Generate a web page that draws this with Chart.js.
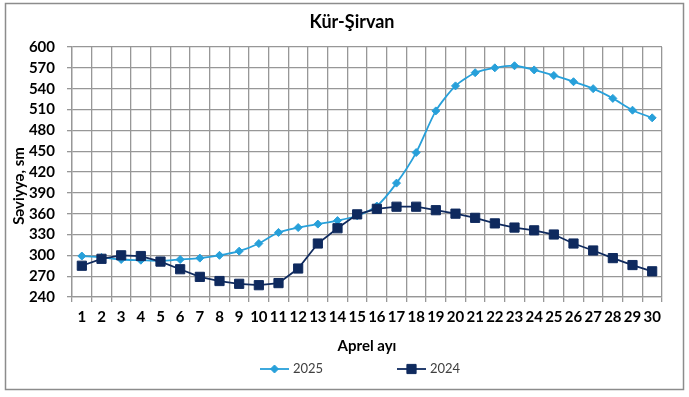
<!DOCTYPE html>
<html>
<head>
<meta charset="utf-8">
<title>Kür-Şirvan</title>
<script src="https://cdn.jsdelivr.net/npm/chart.js@4.4.1/dist/chart.umd.min.js"></script>
<style>
    html, body { margin: 0; padding: 0; background: #fff; }
    #wrap { width: 689px; height: 397px; position: relative; }
</style>
</head>
<body>
<div id="wrap"><canvas id="levelChart"></canvas></div>
<script>
// Kür-Şirvan - April water level, 2025 vs 2024

const days = ['1', '2', '3', '4', '5', '6', '7', '8', '9', '10', '11', '12', '13', '14', '15',
    '16', '17', '18', '19', '20', '21', '22', '23', '24', '25', '26', '27', '28', '29', '30'];

const level2025 = [299, 297, 294, 293, 292, 294, 296, 300, 306, 317, 333, 340, 345, 350, 357,
    371, 404, 448, 508, 544, 563, 570, 573, 567, 559, 550, 540, 526, 509, 498];

const level2024 = [285, 295, 300, 299, 291, 280, 269, 263, 259, 257, 260, 281, 317, 339, 359,
    367, 370, 370, 365, 360, 354, 346, 340, 336, 330, 317, 307, 296, 286, 277];

const yTicks = [240, 270, 300, 330, 360, 390, 420, 450, 480, 510, 540, 570, 600];

const chartTitle = 'Kür-Şirvan';
const yTitle = 'Səviyyə, sm';
const xTitle = 'Aprel ayı';

const COLOR_2025 = '#27a0da';
const COLOR_2024 = '#0f2a5e';
const GRID = '#979797';
const FONT = 'Lato, "Open Sans", sans-serif';

// frame, title, y title and legend drawn by hand
const decorPlugin = {
    id: 'decor',
    beforeDraw(chart) {
        const ctx = chart.ctx;
        ctx.save();
        ctx.fillStyle = '#fff';
        ctx.fillRect(0, 0, chart.width, chart.height);
        ctx.strokeStyle = '#8c8c8c';
        ctx.lineWidth = 1.5;
        ctx.strokeRect(5.5, 3.5, 678, 386);
        ctx.restore();
    },
    afterDraw(chart) {
        const ctx = chart.ctx;
        ctx.save();
        ctx.fillStyle = '#000';
        ctx.textBaseline = 'middle';
        ctx.textAlign = 'center';
        ctx.font = 'bold 18px ' + FONT;
        ctx.fillText(chartTitle, 352, 22);

        ctx.save();
        ctx.translate(19, 186);
        ctx.rotate(-Math.PI / 2);
        ctx.font = 'bold 15px ' + FONT;
        ctx.fillText(yTitle, 0, 0);
        ctx.restore();

        // legend
        const starts = [260, 397];
        const y = 369;
        ctx.font = '13px ' + FONT;
        ctx.textAlign = 'left';
        chart.data.datasets.forEach((ds, i) => {
            const x0 = starts[i];
            ctx.strokeStyle = ds.borderColor;
            ctx.fillStyle = ds.borderColor;
            ctx.lineWidth = 1.8;
            ctx.beginPath();
            ctx.moveTo(x0, y);
            ctx.lineTo(x0 + 29, y);
            ctx.stroke();
            ctx.lineWidth = 1;
            Chart.helpers.drawPoint(ctx, {
                pointStyle: ds.pointStyle,
                radius: ds.pointRadius,
                borderWidth: 1
            }, x0 + 14.5, y);
            ctx.fillStyle = '#404040';
            ctx.fillText(ds.label, x0 + 33, y);
        });
        ctx.restore();
    }
};

const levelChart = new Chart(document.getElementById('levelChart'), {
    type: 'line',
    data: {
        labels: days,
        datasets: [{
            label: '2025',
            data: level2025,
            borderColor: COLOR_2025,
            backgroundColor: COLOR_2025,
            pointBackgroundColor: COLOR_2025,
            pointBorderColor: COLOR_2025,
            borderWidth: 1.8,
            pointStyle: 'rectRot',
            pointRadius: 4,
            pointBorderWidth: 1,
            tension: 0.25,
            order: 1
        }, {
            label: '2024',
            data: level2024,
            borderColor: COLOR_2024,
            backgroundColor: COLOR_2024,
            pointBackgroundColor: COLOR_2024,
            pointBorderColor: COLOR_2024,
            borderWidth: 1.8,
            pointStyle: 'rect',
            pointRadius: 6.5,
            pointBorderWidth: 1,
            tension: 0,
            order: 0
        }]
    },
    options: {
        responsive: true,
        maintainAspectRatio: false,
        animation: false,
        layout: {
            padding: { left: 6, right: 27, top: 47, bottom: 40 }
        },
        plugins: {
            legend: { display: false },
            title: { display: false },
            tooltip: { enabled: false }
        },
        scales: {
            x: {
                offset: true,
                grid: { color: GRID, lineWidth: 1.3, offset: true, tickLength: 5 },
                border: { color: GRID, width: 1.3 },
                ticks: {
                    color: '#000',
                    font: { family: FONT, size: 15, weight: 'bold' },
                    maxRotation: 0,
                    autoSkip: false,
                    padding: 6
                },
                title: {
                    display: true,
                    text: xTitle,
                    color: '#000',
                    font: { family: FONT, size: 15, weight: 'bold' },
                    padding: { top: 0, bottom: 2 }
                },
                afterFit(scale) {
                    scale.height = 60;
                }
            },
            y: {
                min: 240,
                max: 600,
                afterBuildTicks(scale) {
                    scale.ticks = yTicks.map(v => ({ value: v }));
                },
                grid: { color: GRID, lineWidth: 1.3, tickLength: 5 },
                border: { color: GRID, width: 1.3 },
                ticks: {
                    color: '#000',
                    font: { family: FONT, size: 15, weight: 'bold', lineHeight: 1 },
                    autoSkip: false,
                    padding: 12
                },
                afterFit(scale) {
                    scale.width = 66;
                }
            }
        }
    },
    plugins: [decorPlugin]
});
</script>
</body>
</html>
